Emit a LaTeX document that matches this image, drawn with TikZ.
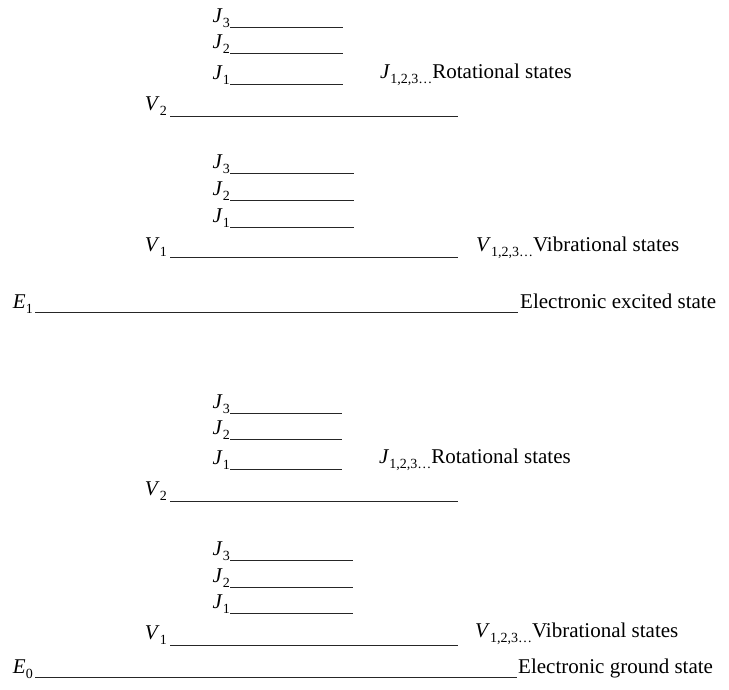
\documentclass[tikz,border=0pt]{standalone}
\usepackage{fontspec}
\setmainfont{Liberation Serif}
\newcommand\lvsub[1]{\raisebox{-0.28em}{\fontsize{14}{15}\selectfont #1}}
\newcommand\lvsym[2]{\textit{#1}\lvsub{#2}}
\begin{document}
\begin{tikzpicture}[x=1pt,y=-1pt,
  lvl/.style={line width=0.9pt,draw=black!85},
  lab/.style={inner sep=0pt,anchor=base east,font=\fontsize{21}{24}\selectfont},
  txt/.style={inner sep=0pt,anchor=base west,font=\fontsize{21}{24}\selectfont}]
\useasboundingbox (0,0) rectangle (729,689);
% rotational sublevels: group name / J3 y / J2 y / J1 y / right end
\foreach \g/\ya/\yb/\yc/\xr in {A/27/53/84/343, B/173/200/227/354, C/413/439/469/342, D/560/587/613/353}{
  \coordinate (\g3a) at (230,\ya); \coordinate (\g3b) at (\xr,\ya);
  \coordinate (\g2a) at (230,\yb); \coordinate (\g2b) at (\xr,\yb);
  \coordinate (\g1a) at (230,\yc); \coordinate (\g1b) at (\xr,\yc);
  \draw[lvl] (\g3a) -- (\g3b);
  \draw[lvl] (\g2a) -- (\g2b);
  \draw[lvl] (\g1a) -- (\g1b);
  \node[lab] (\g3l) at ([yshift=5pt]\g3a) {\lvsym{J}{3}};
  \node[lab] (\g2l) at ([yshift=5pt]\g2a) {\lvsym{J}{2}};
  \node[lab] (\g1l) at ([yshift=5pt]\g1a) {\lvsym{J}{1}};
}
% vibrational levels
\foreach \v/\y/\n in {va/116/2, vb/257/1, vc/501/2, vd/645/1}{
  \coordinate (\v a) at (170,\y); \coordinate (\v b) at (458,\y);
  \draw[lvl] (\v a) -- (\v b);
  \node[lab] (\v l) at ([xshift=-3pt,yshift=6pt]\v a) {\lvsym{V}{\n}};
}
% electronic levels
\coordinate (e1a) at (35,312); \coordinate (e1b) at (518,312);
\coordinate (e0a) at (35,677); \coordinate (e0b) at (517,677);
\draw[lvl] (e1a) -- (e1b);
\draw[lvl] (e0a) -- (e0b);
\node[lab] (e1l) at ([xshift=-2pt,yshift=4pt]e1a) {\lvsym{E}{1}};
\node[lab] (e0l) at ([xshift=-2pt,yshift=4pt]e0a) {\lvsym{E}{0}};
\node[txt] (e1t) at ([xshift=2pt,yshift=4pt]e1b) {Electronic excited state};
\node[txt] (e0t) at ([xshift=1pt,yshift=4pt]e0b) {Electronic ground state};
% legends
\node[txt] (rotA) at (380,78) {\lvsym{J}{1,2,3\ldots}Rotational states};
\node[txt] (rotC) at (379,463) {\lvsym{J}{1,2,3\ldots}Rotational states};
\node[txt] (vibB) at (476,251) {\lvsym{V}{1,2,3\ldots}Vibrational states};
\node[txt] (vibD) at (475,637) {\lvsym{V}{1,2,3\ldots}Vibrational states};
\end{tikzpicture}
\end{document}
